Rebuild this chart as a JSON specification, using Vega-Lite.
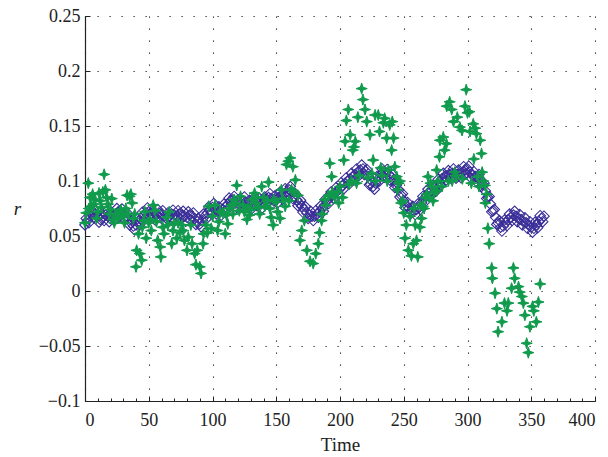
{
  "$schema": "https://vega.github.io/schema/vega-lite/v6.json",
  "width": 510,
  "height": 385,
  "autosize": {"type": "none"},
  "padding": {"left": 85, "top": 16, "right": 13, "bottom": 56},
  "background": "white",
  "config": {
    "view": {"stroke": null},
    "axis": {
      "labelFont": "Liberation Serif",
      "labelFontSize": 18,
      "labelColor": "#222",
      "titleFont": "Liberation Serif",
      "titleFontSize": 19,
      "titleFontWeight": "normal",
      "titleColor": "#222",
      "domainColor": "#222",
      "domainWidth": 1.2,
      "tickColor": "#222",
      "gridColor": "#222",
      "gridDash": [1.2, 10.8],
      "gridWidth": 1.1,
      "gridOpacity": 1
    }
  },
  "datasets": {
    "blue": [
      {"t":0,"r":0.060},{"t":2,"r":0.064},{"t":4,"r":0.068},{"t":6,"r":0.071},{"t":8,"r":0.070},{"t":10,"r":0.068},
      {"t":12,"r":0.065},{"t":14,"r":0.067},{"t":16,"r":0.069},{"t":18,"r":0.068},{"t":20,"r":0.066},{"t":22,"r":0.068},
      {"t":24,"r":0.070},{"t":26,"r":0.072},{"t":28,"r":0.071},{"t":30,"r":0.070},{"t":32,"r":0.068},{"t":34,"r":0.066},
      {"t":36,"r":0.062},{"t":38,"r":0.059},{"t":40,"r":0.060},{"t":42,"r":0.063},{"t":44,"r":0.066},{"t":46,"r":0.069},
      {"t":48,"r":0.071},{"t":50,"r":0.072},{"t":52,"r":0.070},{"t":54,"r":0.068},{"t":56,"r":0.069},{"t":58,"r":0.071},
      {"t":60,"r":0.070},{"t":62,"r":0.068},{"t":64,"r":0.066},{"t":66,"r":0.068},{"t":68,"r":0.070},{"t":70,"r":0.069},
      {"t":72,"r":0.068},{"t":74,"r":0.070},{"t":76,"r":0.069},{"t":78,"r":0.068},{"t":80,"r":0.067},{"t":82,"r":0.069},
      {"t":84,"r":0.068},{"t":86,"r":0.066},{"t":88,"r":0.063},{"t":90,"r":0.061},{"t":92,"r":0.064},{"t":94,"r":0.068},
      {"t":96,"r":0.071},{"t":98,"r":0.074},{"t":100,"r":0.076},{"t":102,"r":0.075},{"t":104,"r":0.073},{"t":106,"r":0.072},
      {"t":108,"r":0.074},{"t":110,"r":0.076},{"t":112,"r":0.079},{"t":114,"r":0.082},{"t":116,"r":0.083},{"t":118,"r":0.081},
      {"t":120,"r":0.079},{"t":122,"r":0.080},{"t":124,"r":0.082},{"t":126,"r":0.081},{"t":128,"r":0.079},{"t":130,"r":0.078},
      {"t":132,"r":0.080},{"t":134,"r":0.082},{"t":136,"r":0.081},{"t":138,"r":0.079},{"t":140,"r":0.080},{"t":142,"r":0.083},
      {"t":144,"r":0.085},{"t":146,"r":0.084},{"t":148,"r":0.082},{"t":150,"r":0.083},{"t":152,"r":0.085},{"t":154,"r":0.087},
      {"t":156,"r":0.088},{"t":158,"r":0.090},{"t":160,"r":0.092},{"t":162,"r":0.090},{"t":164,"r":0.086},{"t":166,"r":0.083},
      {"t":168,"r":0.080},{"t":170,"r":0.077},{"t":172,"r":0.074},{"t":174,"r":0.071},{"t":176,"r":0.069},{"t":178,"r":0.068},
      {"t":180,"r":0.068},{"t":182,"r":0.070},{"t":184,"r":0.072},{"t":186,"r":0.075},{"t":188,"r":0.078},{"t":190,"r":0.082},
      {"t":192,"r":0.085},{"t":194,"r":0.087},{"t":196,"r":0.089},{"t":198,"r":0.091},{"t":200,"r":0.093},{"t":202,"r":0.096},
      {"t":204,"r":0.098},{"t":206,"r":0.100},{"t":208,"r":0.102},{"t":210,"r":0.104},{"t":212,"r":0.106},{"t":214,"r":0.108},
      {"t":216,"r":0.110},{"t":218,"r":0.111},{"t":220,"r":0.109},{"t":222,"r":0.104},{"t":224,"r":0.097},{"t":226,"r":0.095},
      {"t":228,"r":0.098},{"t":230,"r":0.102},{"t":232,"r":0.106},{"t":234,"r":0.108},{"t":236,"r":0.107},{"t":238,"r":0.106},
      {"t":240,"r":0.104},{"t":242,"r":0.100},{"t":244,"r":0.096},{"t":246,"r":0.092},{"t":248,"r":0.087},{"t":250,"r":0.082},
      {"t":252,"r":0.078},{"t":254,"r":0.075},{"t":256,"r":0.073},{"t":258,"r":0.073},{"t":260,"r":0.074},{"t":262,"r":0.076},
      {"t":264,"r":0.080},{"t":266,"r":0.084},{"t":268,"r":0.087},{"t":270,"r":0.090},{"t":272,"r":0.091},{"t":274,"r":0.093},
      {"t":276,"r":0.096},{"t":278,"r":0.099},{"t":280,"r":0.102},{"t":282,"r":0.104},{"t":284,"r":0.105},{"t":286,"r":0.106},
      {"t":288,"r":0.107},{"t":290,"r":0.107},{"t":292,"r":0.106},{"t":294,"r":0.106},{"t":296,"r":0.108},{"t":298,"r":0.110},
      {"t":300,"r":0.111},{"t":302,"r":0.108},{"t":304,"r":0.105},{"t":306,"r":0.104},{"t":308,"r":0.103},{"t":310,"r":0.101},
      {"t":312,"r":0.097},{"t":314,"r":0.091},{"t":316,"r":0.085},{"t":318,"r":0.079},{"t":320,"r":0.073},{"t":322,"r":0.067},
      {"t":324,"r":0.062},{"t":326,"r":0.058},{"t":328,"r":0.059},{"t":330,"r":0.062},{"t":332,"r":0.065},{"t":334,"r":0.067},
      {"t":336,"r":0.069},{"t":338,"r":0.068},{"t":340,"r":0.066},{"t":342,"r":0.065},{"t":344,"r":0.063},{"t":346,"r":0.062},
      {"t":348,"r":0.060},{"t":350,"r":0.058},{"t":352,"r":0.057},{"t":354,"r":0.060},{"t":356,"r":0.063},{"t":358,"r":0.066},
      {"t":360,"r":0.068},
      {"t":1,"r":0.066},{"t":3,"r":0.062},{"t":5,"r":0.0735},{"t":7,"r":0.0665},{"t":9,"r":0.073},{"t":11,"r":0.0625},
      {"t":13,"r":0.070},{"t":15,"r":0.064},{"t":17,"r":0.0725},{"t":19,"r":0.063},{"t":21,"r":0.071},{"t":23,"r":0.065},
      {"t":25,"r":0.075},{"t":27,"r":0.0675},{"t":29,"r":0.0745},{"t":31,"r":0.065},{"t":33,"r":0.071},{"t":35,"r":0.060},
      {"t":37,"r":0.0645},{"t":39,"r":0.0555},{"t":41,"r":0.0655},{"t":43,"r":0.0605},{"t":45,"r":0.0715},{"t":47,"r":0.066},
      {"t":49,"r":0.0755},{"t":51,"r":0.067},{"t":53,"r":0.073},{"t":55,"r":0.0645},{"t":57,"r":0.074},{"t":59,"r":0.0665},
      {"t":61,"r":0.073},{"t":63,"r":0.063},{"t":65,"r":0.071},{"t":67,"r":0.065},{"t":69,"r":0.0735},{"t":71,"r":0.0645},
      {"t":73,"r":0.073},{"t":75,"r":0.0655},{"t":77,"r":0.0725},{"t":79,"r":0.0635},{"t":81,"r":0.072},{"t":83,"r":0.0645},
      {"t":85,"r":0.071},{"t":87,"r":0.0605},{"t":89,"r":0.066},{"t":91,"r":0.0585},{"t":93,"r":0.070},{"t":95,"r":0.0655},
      {"t":97,"r":0.0765},{"t":99,"r":0.071},{"t":101,"r":0.0795},{"t":103,"r":0.070},{"t":105,"r":0.0765},{"t":107,"r":0.069},
      {"t":109,"r":0.079},{"t":111,"r":0.0735},{"t":113,"r":0.0845},{"t":115,"r":0.0785},{"t":117,"r":0.086},{"t":119,"r":0.076},
      {"t":121,"r":0.0835},{"t":123,"r":0.077},{"t":125,"r":0.0855},{"t":127,"r":0.076},{"t":129,"r":0.0825},{"t":131,"r":0.075},
      {"t":133,"r":0.085},{"t":135,"r":0.0775},{"t":137,"r":0.084},{"t":139,"r":0.0755},{"t":141,"r":0.0855},{"t":143,"r":0.080},
      {"t":145,"r":0.0885},{"t":147,"r":0.079},{"t":149,"r":0.0865},{"t":151,"r":0.080},{"t":153,"r":0.090},{"t":155,"r":0.0835},
      {"t":157,"r":0.093},{"t":159,"r":0.087},{"t":161,"r":0.095},{"t":163,"r":0.084},{"t":165,"r":0.0885},{"t":167,"r":0.0775},
      {"t":169,"r":0.0825},{"t":171,"r":0.0715},{"t":173,"r":0.0765},{"t":175,"r":0.066},{"t":177,"r":0.0725},{"t":179,"r":0.064},
      {"t":181,"r":0.073},{"t":183,"r":0.067},{"t":185,"r":0.0775},{"t":187,"r":0.0725},{"t":189,"r":0.084},{"t":191,"r":0.0795},
      {"t":193,"r":0.090},{"t":195,"r":0.084},{"t":197,"r":0.094},{"t":199,"r":0.088},{"t":201,"r":0.0985},{"t":203,"r":0.093},
      {"t":205,"r":0.103},{"t":207,"r":0.097},{"t":209,"r":0.107},{"t":211,"r":0.101},{"t":213,"r":0.111},{"t":215,"r":0.105},
      {"t":217,"r":0.1145},{"t":219,"r":0.106},{"t":221,"r":0.1105},{"t":223,"r":0.0965},{"t":225,"r":0.100},{"t":227,"r":0.0925},
      {"t":229,"r":0.104},{"t":231,"r":0.100},{"t":233,"r":0.111},{"t":235,"r":0.1035},{"t":237,"r":0.1105},{"t":239,"r":0.101},
      {"t":241,"r":0.106},{"t":243,"r":0.094},{"t":245,"r":0.098},{"t":247,"r":0.0855},{"t":249,"r":0.0885},{"t":251,"r":0.076},
      {"t":253,"r":0.0805},{"t":255,"r":0.070},{"t":257,"r":0.077},{"t":259,"r":0.0695},{"t":261,"r":0.079},{"t":263,"r":0.074},
      {"t":265,"r":0.086},{"t":267,"r":0.0815},{"t":269,"r":0.0925},{"t":271,"r":0.0865},{"t":273,"r":0.096},{"t":275,"r":0.0905},
      {"t":277,"r":0.1015},{"t":279,"r":0.0965},{"t":281,"r":0.107},{"t":283,"r":0.1005},{"t":285,"r":0.1095},{"t":287,"r":0.1025},
      {"t":289,"r":0.111},{"t":291,"r":0.1025},{"t":293,"r":0.110},{"t":295,"r":0.103},{"t":297,"r":0.113},{"t":299,"r":0.1065},
      {"t":301,"r":0.1135},{"t":303,"r":0.1025},{"t":305,"r":0.1085},{"t":307,"r":0.0995},{"t":309,"r":0.106},{"t":311,"r":0.095},
      {"t":313,"r":0.098},{"t":315,"r":0.084},{"t":317,"r":0.086},{"t":319,"r":0.072},{"t":321,"r":0.074},{"t":323,"r":0.0605},
      {"t":325,"r":0.064},{"t":327,"r":0.0545},{"t":329,"r":0.0645},{"t":331,"r":0.0595},{"t":333,"r":0.070},{"t":335,"r":0.064},
      {"t":337,"r":0.0725},{"t":339,"r":0.063},{"t":341,"r":0.0695},{"t":343,"r":0.060},{"t":345,"r":0.0665},{"t":347,"r":0.057},
      {"t":349,"r":0.063},{"t":351,"r":0.0535},{"t":353,"r":0.0625},{"t":355,"r":0.0575},{"t":357,"r":0.0685},{"t":359,"r":0.063}
    ],
    "green": [
      {"t":0,"r":0.062},{"t":1,"r":0.071},{"t":2.6,"r":0.098},{"t":4,"r":0.085},{"t":5,"r":0.077},{"t":6,"r":0.088},
      {"t":8,"r":0.083},{"t":10,"r":0.072},{"t":11,"r":0.089},{"t":12,"r":0.082},{"t":15,"r":0.106},{"t":16,"r":0.092},
      {"t":17,"r":0.085},{"t":18,"r":0.079},{"t":20,"r":0.074},{"t":22,"r":0.065},{"t":24,"r":0.070},{"t":27,"r":0.071},
      {"t":30,"r":0.068},{"t":33,"r":0.087},{"t":35,"r":0.086},{"t":37,"r":0.080},{"t":39,"r":0.070},{"t":40,"r":0.022},
      {"t":40.5,"r":0.037},{"t":42,"r":0.052},{"t":43,"r":0.034},{"t":44.5,"r":0.028},{"t":46,"r":0.064},{"t":48,"r":0.048},
      {"t":51,"r":0.065},{"t":53.5,"r":0.078},{"t":55,"r":0.073},{"t":57,"r":0.046},{"t":59,"r":0.040},{"t":59.5,"r":0.031},
      {"t":61,"r":0.058},{"t":64,"r":0.067},{"t":66,"r":0.072},{"t":68,"r":0.043},{"t":70,"r":0.062},{"t":72,"r":0.048},
      {"t":74.5,"r":0.053},{"t":77,"r":0.055},{"t":78,"r":0.046},{"t":80,"r":0.037},{"t":81,"r":0.049},{"t":84,"r":0.043},
      {"t":86,"r":0.034},{"t":87,"r":0.024},{"t":88,"r":0.037},{"t":90,"r":0.022},{"t":91,"r":0.016},{"t":92.6,"r":0.043},
      {"t":95,"r":0.060},{"t":96,"r":0.053},{"t":97,"r":0.077},{"t":99,"r":0.057},{"t":102,"r":0.078},{"t":104,"r":0.055},
      {"t":105,"r":0.063},{"t":108,"r":0.071},{"t":110,"r":0.052},{"t":111,"r":0.069},{"t":112,"r":0.061},{"t":115,"r":0.078},
      {"t":117,"r":0.083},{"t":119,"r":0.096},{"t":121,"r":0.073},{"t":124,"r":0.078},{"t":127,"r":0.065},{"t":129,"r":0.069},
      {"t":131,"r":0.083},{"t":133,"r":0.089},{"t":134,"r":0.080},{"t":136,"r":0.076},{"t":138.6,"r":0.095},{"t":141,"r":0.077},
      {"t":144,"r":0.099},{"t":146,"r":0.067},{"t":147.6,"r":0.060},{"t":150,"r":0.081},{"t":153,"r":0.066},{"t":154,"r":0.092},
      {"t":157,"r":0.077},{"t":158,"r":0.115},{"t":159.5,"r":0.118},{"t":161,"r":0.121},{"t":162,"r":0.092},{"t":163,"r":0.113},
      {"t":165,"r":0.101},{"t":167,"r":0.087},{"t":168.6,"r":0.046},{"t":170,"r":0.055},{"t":172,"r":0.064},{"t":174,"r":0.037},
      {"t":176.5,"r":0.027},{"t":179,"r":0.025},{"t":181,"r":0.034},{"t":183,"r":0.043},{"t":184,"r":0.053},{"t":185.6,"r":0.064},
      {"t":188,"r":0.083},{"t":191,"r":0.087},{"t":192,"r":0.116},{"t":193.5,"r":0.104},{"t":196,"r":0.085},{"t":198,"r":0.090},
      {"t":200,"r":0.095},{"t":203,"r":0.119},{"t":204,"r":0.136},{"t":205,"r":0.155},{"t":206.5,"r":0.165},{"t":208,"r":0.142},
      {"t":210,"r":0.128},{"t":211,"r":0.131},{"t":212,"r":0.136},{"t":214,"r":0.158},{"t":215,"r":0.105},{"t":217,"r":0.184},
      {"t":218,"r":0.174},{"t":219.6,"r":0.165},{"t":221,"r":0.154},{"t":222,"r":0.103},{"t":223.5,"r":0.142},{"t":225,"r":0.107},
      {"t":226,"r":0.119},{"t":227.5,"r":0.160},{"t":230,"r":0.160},{"t":231,"r":0.145},{"t":232,"r":0.112},{"t":234,"r":0.153},
      {"t":235,"r":0.157},{"t":236.6,"r":0.139},{"t":238,"r":0.110},{"t":239,"r":0.151},{"t":240.5,"r":0.128},{"t":241,"r":0.154},
      {"t":242,"r":0.139},{"t":243,"r":0.113},{"t":244.5,"r":0.104},{"t":246,"r":0.098},{"t":247,"r":0.100},{"t":248,"r":0.080},
      {"t":250,"r":0.071},{"t":251,"r":0.048},{"t":252,"r":0.060},{"t":253.6,"r":0.037},{"t":256,"r":0.032},{"t":257.5,"r":0.043},
      {"t":258,"r":0.075},{"t":260,"r":0.046},{"t":261,"r":0.031},{"t":262.7,"r":0.058},{"t":264,"r":0.066},{"t":265,"r":0.077},
      {"t":267,"r":0.085},{"t":268,"r":0.088},{"t":269,"r":0.104},{"t":272,"r":0.095},{"t":273,"r":0.082},{"t":276,"r":0.091},
      {"t":275.8,"r":0.110},{"t":278,"r":0.122},{"t":278.4,"r":0.137},{"t":281,"r":0.140},{"t":282,"r":0.128},{"t":283.5,"r":0.134},
      {"t":283.7,"r":0.168},{"t":286,"r":0.172},{"t":287.6,"r":0.165},{"t":289,"r":0.154},{"t":290,"r":0.108},{"t":292,"r":0.158},
      {"t":294,"r":0.149},{"t":295.7,"r":0.146},{"t":298,"r":0.168},{"t":299,"r":0.183},{"t":300,"r":0.162},{"t":301.5,"r":0.163},
      {"t":302,"r":0.145},{"t":304.5,"r":0.152},{"t":306,"r":0.148},{"t":307,"r":0.143},{"t":308,"r":0.104},{"t":310,"r":0.137},
      {"t":311,"r":0.125},{"t":311.5,"r":0.108},{"t":312.4,"r":0.100},{"t":313.7,"r":0.096},{"t":314,"r":0.080},{"t":315,"r":0.088},
      {"t":316,"r":0.057},{"t":317,"r":0.043},{"t":319,"r":0.021},{"t":319.5,"r":0.0115},{"t":321.6,"r":-0.002},{"t":323,"r":-0.016},
      {"t":324,"r":-0.037},{"t":327,"r":-0.028},{"t":329,"r":-0.011},{"t":331,"r":-0.018},{"t":332,"r":-0.011},{"t":334.6,"r":0.0025},
      {"t":336,"r":0.021},{"t":337,"r":0.0115},{"t":340,"r":0.004},{"t":341,"r":-0.001},{"t":342.6,"r":-0.005},{"t":343.8,"r":-0.011},
      {"t":345,"r":-0.022},{"t":346.4,"r":-0.0475},{"t":347.7,"r":-0.056},{"t":349,"r":-0.0325},{"t":351,"r":-0.014},{"t":352,"r":-0.018},
      {"t":354,"r":-0.028},{"t":355.6,"r":-0.010},{"t":357,"r":0.0064},
      {"t":3,"r":0.075},{"t":7,"r":0.079},{"t":9,"r":0.066},{"t":13,"r":0.076},{"t":14,"r":0.090},{"t":19,"r":0.070},
      {"t":21,"r":0.084},{"t":23,"r":0.062},{"t":26,"r":0.066},{"t":28,"r":0.074},{"t":31,"r":0.062},{"t":32,"r":0.075},
      {"t":34,"r":0.070},{"t":36,"r":0.088},{"t":38,"r":0.066},{"t":45,"r":0.058},{"t":47,"r":0.072},{"t":50,"r":0.062},
      {"t":52,"r":0.055},{"t":56,"r":0.063},{"t":62,"r":0.052},{"t":65,"r":0.060},{"t":69,"r":0.055},{"t":73,"r":0.062},
      {"t":76,"r":0.060},{"t":83,"r":0.060},{"t":93,"r":0.052},{"t":100,"r":0.068},{"t":106,"r":0.072},{"t":113,"r":0.075},
      {"t":116,"r":0.070},{"t":118,"r":0.080},{"t":122,"r":0.086},{"t":125,"r":0.072},{"t":128,"r":0.076},{"t":130,"r":0.074},
      {"t":135,"r":0.085},{"t":137,"r":0.070},{"t":140,"r":0.085},{"t":143,"r":0.082},{"t":145,"r":0.075},{"t":148,"r":0.083},
      {"t":151,"r":0.072},{"t":155,"r":0.084},{"t":160,"r":0.082},{"t":164,"r":0.090},{"t":186,"r":0.070},{"t":189,"r":0.078},
      {"t":194,"r":0.090},{"t":199,"r":0.080},{"t":202,"r":0.085},{"t":207,"r":0.097},{"t":209,"r":0.100},{"t":213,"r":0.098},
      {"t":228,"r":0.100},{"t":233,"r":0.105},{"t":237,"r":0.100},{"t":245,"r":0.092},{"t":249,"r":0.082},{"t":255,"r":0.068},
      {"t":259,"r":0.060},{"t":263,"r":0.078},{"t":266,"r":0.075},{"t":270,"r":0.085},{"t":271,"r":0.098},{"t":274,"r":0.090},
      {"t":277,"r":0.100},{"t":280,"r":0.095},{"t":285,"r":0.100},{"t":288,"r":0.100},{"t":291,"r":0.105},{"t":296,"r":0.102},
      {"t":303,"r":0.098},{"t":305,"r":0.120},{"t":309,"r":0.095}
    ]
  },
  "layer": [
    {
      "data": {"name": "blue"},
      "mark": {"type": "point", "shape": "diamond", "filled": false, "stroke": "#3a2e98", "strokeWidth": 1.1, "size": 110, "opacity": 1},
      "encoding": {
        "x": {"field": "t", "type": "quantitative", "scale": {"domain": [0, 400], "nice": false, "zero": false},
          "axis": {"values": [10,20,30,40,60,70,80,90,110,120,130,140,160,170,180,190,210,220,230,240,260,270,280,290,310,320,330,340,360,370,380,390],
            "labels": false, "grid": false, "domain": false, "tickSize": -3, "title": null, "orient": "bottom"}},
        "y": {"field": "r", "type": "quantitative", "scale": {"domain": [-0.1, 0.25], "nice": false, "zero": false},
          "axis": {"values": [-0.1,-0.05,0,0.05,0.1,0.15,0.2,0.25], "format": "~g", "tickSize": -5, "labelPadding": 10, "grid": true,
            "labelFont": "Liberation Serif", "labelFontSize": 18, "titleFont": "Liberation Serif", "titleFontSize": 19,
            "encode": {"labels": {"update": {"font": {"value": "Liberation Serif"}}}},
            "title": "r", "titleAngle": 0, "titleFontStyle": "italic", "titleX": -68, "titleY": 192, "titleBaseline": "middle", "titleAlign": "center"}}
      }
    },
    {
      "data": {"name": "green"},
      "mark": {"type": "point", "shape": "M0,-1L0.24,-0.24L1,0L0.24,0.24L0,1L-0.24,0.24L-1,0L-0.24,-0.24Z", "filled": true, "fill": "#109a4c", "stroke": "#109a4c", "strokeWidth": 1, "size": 125, "opacity": 1},
      "encoding": {
        "x": {"field": "t", "type": "quantitative", "scale": {"domain": [0, 400], "nice": false, "zero": false},
          "axis": {"values": [0,50,100,150,200,250,300,350,400], "tickSize": -5, "labelPadding": 15, "grid": true,
            "labelFont": "Liberation Serif", "labelFontSize": 18, "titleFont": "Liberation Serif", "titleFontSize": 19,
            "encode": {"labels": {"update": {"font": {"value": "Liberation Serif"}}}},
            "title": "Time", "titlePadding": 6, "orient": "bottom"}},
        "y": {"field": "r", "type": "quantitative", "scale": {"domain": [-0.1, 0.25], "nice": false, "zero": false},
          "axis": {"values": [-0.1,-0.05,0,0.05,0.1,0.15,0.2,0.25], "format": "~g", "tickSize": -5, "labelPadding": 10, "grid": true,
            "labelFont": "Liberation Serif", "labelFontSize": 18, "titleFont": "Liberation Serif", "titleFontSize": 19,
            "encode": {"labels": {"update": {"font": {"value": "Liberation Serif"}}}},
            "title": "r", "titleAngle": 0, "titleFontStyle": "italic", "titleX": -68, "titleY": 192, "titleBaseline": "middle", "titleAlign": "center"}}
      }
    }
  ],
  "resolve": {"axis": {"x": "independent"}}
}
